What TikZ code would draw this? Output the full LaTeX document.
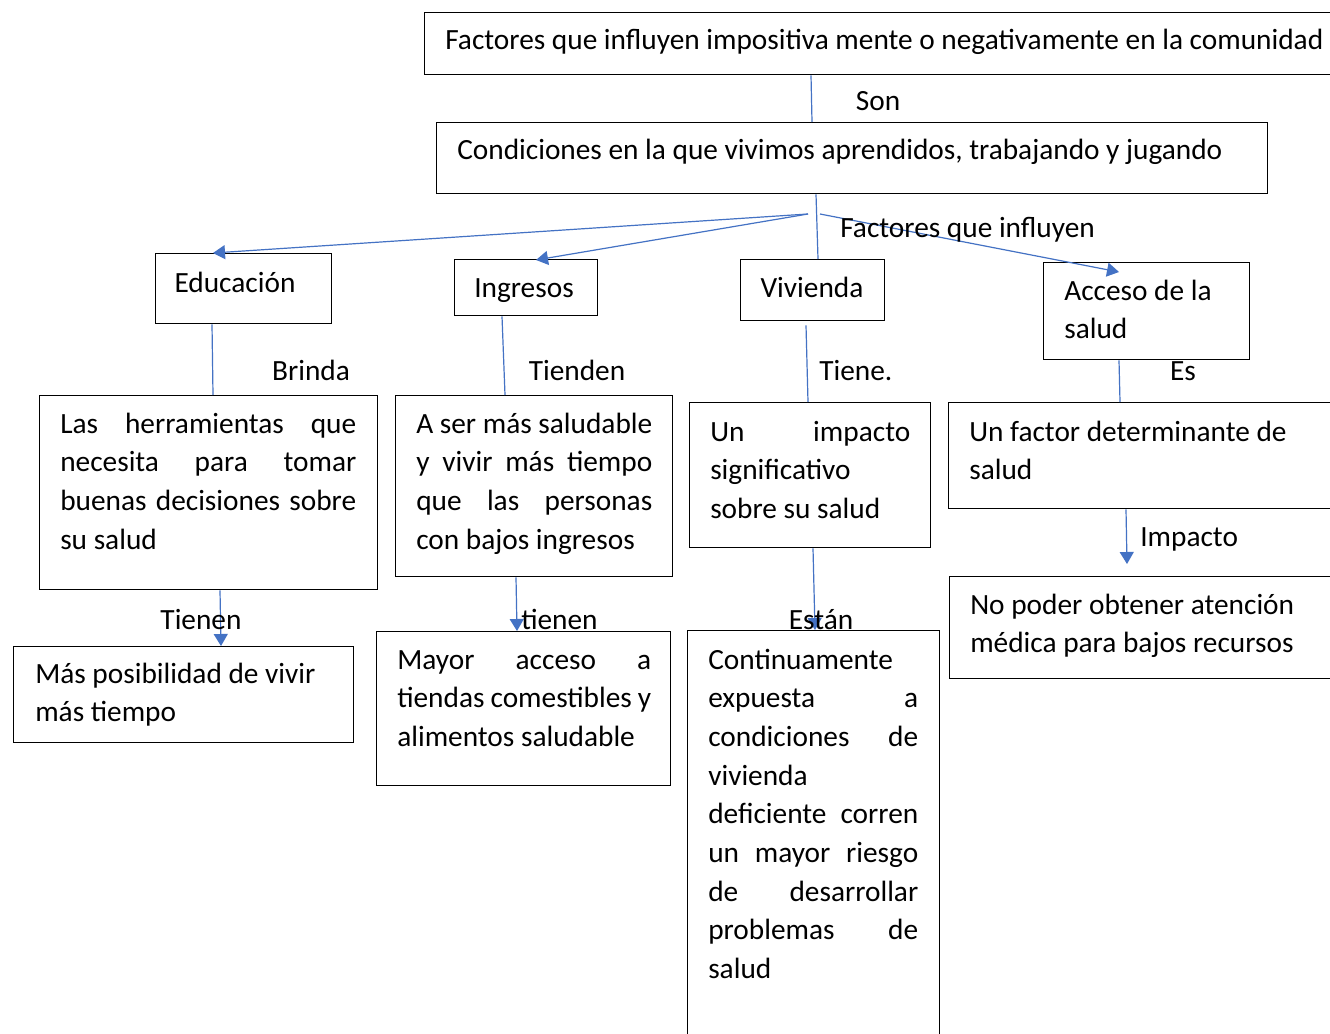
\documentclass[tikz,border=0pt]{standalone}
\usepackage{fontspec}
\setmainfont{Carlito}
\usetikzlibrary{arrows.meta,calc}
\definecolor{lnblue}{HTML}{4472C4}
\tikzset{
 bx/.style={draw=black,line width=1pt,inner sep=0pt,anchor=north west},
 txt/.style={inner sep=0pt,anchor=base west,font=\fontsize{22pt}{29pt}\selectfont},
 lbl/.style={inner sep=0pt,anchor=base,font=\fontsize{22pt}{29pt}\selectfont},
 con/.style={draw=lnblue,line width=0.9pt},
 arr/.style={con,-{Triangle[length=9pt,width=10.5pt]}},
}
\newcommand\ns{\spaceskip=0pt\xspaceskip=0pt\relax}
\newcommand\jl[2]{\makebox[#1][s]{\ns#2}}
\newcommand\mkbox[5]{\node[bx,minimum width={0.75pt*(#4-#2)},minimum height={0.75pt*(#5-#3)}] (#1) at (#2,#3) {};}
\begin{document}
\begin{tikzpicture}[x=0.75pt,y=-0.75pt]
\useasboundingbox (0,0) rectangle (1330,1034);
\fill[white] (0,0) rectangle (1330,1034);
\clip (0,0) rectangle (1330,1034);
% boxes
\mkbox{top}{424}{12}{1345}{74}
\mkbox{cond}{436}{122}{1267}{193}
\mkbox{edu}{155}{253}{331}{323}
\mkbox{ing}{454}{259}{597}{315}
\mkbox{viv}{740}{259}{884}{320}
\mkbox{acc}{1043}{262}{1249}{359}
\mkbox{herr}{39}{395}{377}{589}
\mkbox{aser}{395}{395}{672}{576}
\mkbox{imp}{689}{402}{930}{547}
\mkbox{fac}{948}{402}{1345}{508}
\mkbox{mas}{13}{646}{353}{742}
\mkbox{may}{376}{631}{670}{785}
\mkbox{cont}{687}{630}{939}{1045}
\mkbox{nopo}{949}{576}{1345}{678}
% box texts
\node[txt] (topT) at (445,50) {Factores que influyen impositiva mente o negativamente en la comunidad};
\node[txt] (condT) at (457,160) {Condiciones en la que vivimos aprendidos, trabajando y jugando};
\node[lbl] (eduT) at (235,292) {Educación};
\node[lbl] (ingT) at (524,297) {Ingresos};
\node[lbl] (vivT) at (812,297) {Vivienda};
\node[txt,text width=150pt,align=left] (accT) at (1064,300) {\ns Acceso de la\\salud};
\node[txt,text width=230pt,align=left] (herrT) at (60,433) {\ns\jl{222pt}{Las herramientas que}\\\jl{222pt}{necesita para tomar}\\\jl{222pt}{buenas decisiones sobre}\\su salud};
\node[txt,text width=185pt,align=left] (aserT) at (416,433) {\ns\jl{177pt}{A ser más saludable}\\\jl{177pt}{y vivir más tiempo}\\\jl{177pt}{que las personas}\\con bajos ingresos};
\node[txt,text width=160pt,align=left] (impT) at (710,441) {\ns\jl{150pt}{Un impacto}\\significativo\\sobre su salud};
\node[txt,text width=270pt,align=left] (facT) at (969,441) {\ns Un factor determinante de\\salud};
\node[txt,text width=250pt,align=left] (masT) at (35,683) {\ns Más posibilidad de vivir\\más tiempo};
\node[txt,text width=200pt,align=left] (mayT) at (397,669) {\ns\jl{190.5pt}{Mayor acceso a}\\\jl{190.5pt}{tiendas comestibles y}\\alimentos saludable};
\node[txt,text width=170pt,align=left] (contT) at (708,669) {\ns Continuamente\\\jl{157.5pt}{expuesta a}\\\jl{157.5pt}{condiciones de}\\vivienda\\\jl{157.5pt}{deficiente corren}\\\jl{157.5pt}{un mayor riesgo}\\\jl{157.5pt}{de desarrollar}\\\jl{157.5pt}{problemas de}\\salud};
\node[txt,text width=280pt,align=left] (nopoT) at (970,614) {\ns No poder obtener atención\\médica para bajos recursos};
% connectors
\coordinate (b1) at (808,214);
\coordinate (b2) at (820,214);
\draw[con] ($(top.south west)+(387,0)$) -- ($(cond.north west)+(376,0)$);
\draw[con] ($(cond.south west)+(380,0)$) -- ($(viv.north west)+(78,0)$);
\draw[arr] (b1) -- ($(edu.north west)+(58,0)$);
\draw[arr] (b1) -- ($(ing.north west)+(82,1)$);
\draw[arr] (b2) -- ($(acc.north west)+(76,10)$);
\draw[con] ($(edu.south west)+(57,0)$) -- ($(herr.north west)+(174,0)$);
\draw[con] ($(ing.south west)+(48,0)$) -- ($(aser.north west)+(110,0)$);
\draw[con] ($(viv.south west)+(66,4)$) -- ($(imp.north west)+(119,0)$);
\draw[con] ($(acc.south west)+(76,0)$) -- ($(fac.north west)+(172,0)$);
\draw[arr] ($(herr.south west)+(181,0)$) -- ($(mas.north west)+(208,0)$);
\draw[arr] ($(aser.south west)+(121,0)$) -- ($(may.north west)+(141,0)$);
\draw[arr] ($(imp.south west)+(124,0)$) -- ($(cont.north west)+(128,0)$);
\draw[arr] ($(fac.south west)+(178,0)$) -- ($(nopo.north west)+(178,-12)$);
% connector labels
\node[lbl] (lSon) at (878,111) {Son};
\node[txt] (lFac) at (840,238) {Factores que influyen};
\node[lbl] (lBri) at (311,380) {Brinda};
\node[lbl] (lTid) at (577,380) {Tienden};
\node[txt] (lTie) at (819,380) {Tiene.};
\node[lbl] (lEs) at (1183,380) {Es};
\node[lbl] (lTn1) at (201,629) {Tienen};
\node[txt] (lTn2) at (521,629) {tienen};
\node[lbl] (lEst) at (821,629) {Están};
\node[txt] (lImp) at (1140,546) {Impacto};
\end{tikzpicture}
\end{document}
